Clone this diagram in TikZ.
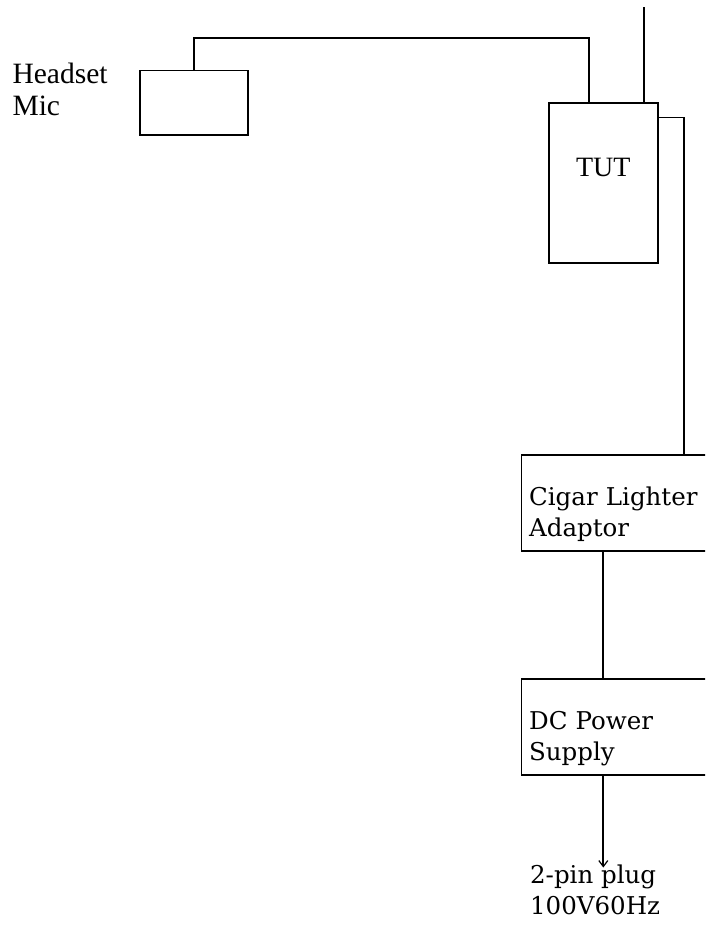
\documentclass[tikz,border=0pt]{standalone}
\usepackage{fontspec}
\setmainfont{Liberation Serif}
\newfontfamily\unitfont{DejaVu Serif}
\usetikzlibrary{arrows.meta,positioning}

\begin{document}
\begin{tikzpicture}[x=1pt,y=1pt, line width=1.7pt,
    every node/.style={font=\fontsize{28}{31.6}\selectfont, inner sep=0pt},
    unit/.style={draw, anchor=west, font=\unitfont\fontsize{24.5}{31}\selectfont, align=left,
        text width=225pt, inner xsep=7.6pt, minimum height=96pt, text depth=14pt}]
    \clip (0,0) rectangle (705,925);
    % microphone and test unit
    \node[draw, minimum width=108.3pt, minimum height=64.3pt] (mic) at (193.9,822.2) {};
    \node[anchor=north west, align=left, font=\fontsize{29.5}{31.6}\selectfont] (miclabel) at (11.7,862.6) {Headset\\Mic};
    \node[draw, minimum width=108.7pt, minimum height=160pt, text depth=30.5pt] (tut) at (603.3,742.3) {TUT};
    \coordinate (antenna) at (644,917.7);
    % power chain
    \node[unit] (cig) at (520.7,421.7) {Cigar Lighter\\Adaptor};
    \node[unit] (dc) at (520.7,198) {DC Power\\Supply};
    \node[anchor=north west, align=left, font=\unitfont\fontsize{24.5}{30.3}\selectfont] (plug) at (529.3,60.6) {2-pin plug\\100V60Hz};
    % wires
    \draw (mic.north) -- ++(0,31.7) -| ([xshift=-14.6pt]tut.north);
    \draw ([xshift=40.7pt]tut.north) -- (antenna);
    \draw ([yshift=-15.6pt]tut.north east) -| ([xshift=42.5pt]cig.north);
    \draw (cig.south -| tut.center) -- (dc.north -| tut.center);
    \draw[-{Straight Barb[length=6pt,width=9pt,line width=1.2pt]}] (dc.south -| tut.center) -- ++(0,-91.7);
\end{tikzpicture}
\end{document}
